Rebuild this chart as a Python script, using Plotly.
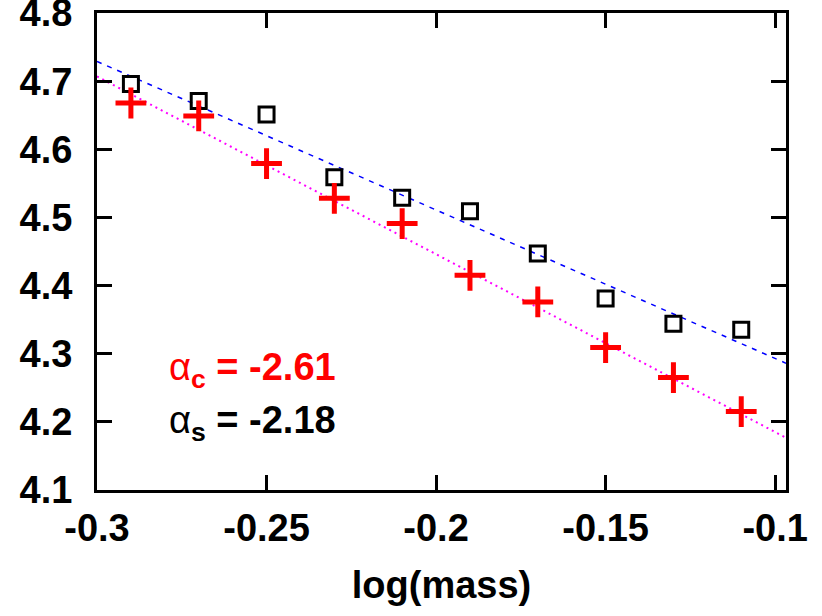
import numpy as np
import plotly.graph_objects as go

# ---- data ----
log_mass = [-0.29, -0.27, -0.25, -0.23, -0.21, -0.19, -0.17, -0.15, -0.13, -0.11]
y_squares = [4.696, 4.671, 4.651, 4.559, 4.529, 4.509, 4.447, 4.381, 4.344, 4.335]
y_crosses = [4.668, 4.649, 4.579, 4.528, 4.491, 4.415, 4.376, 4.309, 4.265, 4.215]

fit_s_slope, fit_s_intercept = -2.18, 4.075   # blue dashed (squares)
fit_c_slope, fit_c_intercept = -2.61, 3.924   # magenta dotted (crosses)

x_range = [-0.3, -0.0968]
y_range = [4.0999, 4.8001]
x_ticks = [-0.3, -0.25, -0.2, -0.15, -0.1]
x_ticklabels = ["-0.3", "-0.25", "-0.2", "-0.15", "-0.1"]
y_ticks = [4.1, 4.2, 4.3, 4.4, 4.5, 4.6, 4.7, 4.8]
y_ticklabels = ["4.1", "4.2", "4.3", "4.4", "4.5", "4.6", "4.7", "4.8"]

FONT = "Liberation Sans, Arial, sans-serif"

xl = np.array(x_range)
fig = go.Figure()
fig.add_trace(go.Scatter(x=xl, y=fit_s_intercept + fit_s_slope * xl, mode="lines",
                         line=dict(color="#0000ff", width=1.5, dash="5px,6px"),
                         showlegend=False, hoverinfo="skip"))
fig.add_trace(go.Scatter(x=xl, y=fit_c_intercept + fit_c_slope * xl, mode="lines",
                         line=dict(color="#ff00ff", width=2, dash="2px,4px"),
                         showlegend=False, hoverinfo="skip"))
fig.add_trace(go.Scatter(x=log_mass, y=y_squares, mode="markers",
                         marker=dict(symbol="square-open", size=15, color="black",
                                     line=dict(color="black", width=3)),
                         showlegend=False))
fig.add_trace(go.Scatter(x=log_mass, y=y_crosses, mode="markers",
                         marker=dict(symbol="cross-thin", size=22, color="#ff0000",
                                     line=dict(color="#ff0000", width=5)),
                         showlegend=False))

fig.add_annotation(xref="paper", yref="paper", x=(167 - 97) / 689, y=(490 - 370) / 477,
                   xanchor="left", yanchor="middle", showarrow=False,
                   text="<span style='font-weight:normal'>α</span><sub>c</sub> = -2.61",
                   font=dict(family=FONT, size=38, color="#ff0000", weight="bold"))
fig.add_annotation(xref="paper", yref="paper", x=(167 - 97) / 689, y=(490 - 423) / 477,
                   xanchor="left", yanchor="middle", showarrow=False,
                   text="<span style='font-weight:normal'>α</span><sub>s</sub> = -2.18",
                   font=dict(family=FONT, size=38, color="black", weight="bold"))

axis_common = dict(showline=True, linewidth=3, linecolor="black", mirror="ticks",
                   ticks="inside", ticklen=15, tickwidth=3, tickcolor="black",
                   showgrid=False, zeroline=False, ticklabeloverflow="allow",
                   automargin=False,
                   tickfont=dict(family=FONT, size=38, color="black", weight="bold"))

fig.update_layout(
    width=822, height=616,
    margin=dict(l=97, r=36, t=13, b=126, autoexpand=False),
    paper_bgcolor="white", plot_bgcolor="white",
    xaxis=dict(range=x_range, tickvals=x_ticks, ticktext=x_ticklabels,
               title=dict(text="log(mass)", standoff=24,
                          font=dict(family=FONT, size=38, color="black", weight="bold")),
               ticklabelstandoff=2, **axis_common),
    yaxis=dict(range=y_range, tickvals=y_ticks, ticktext=y_ticklabels,
               ticklabelstandoff=14, **axis_common),
)

fig.write_html("out.html")
